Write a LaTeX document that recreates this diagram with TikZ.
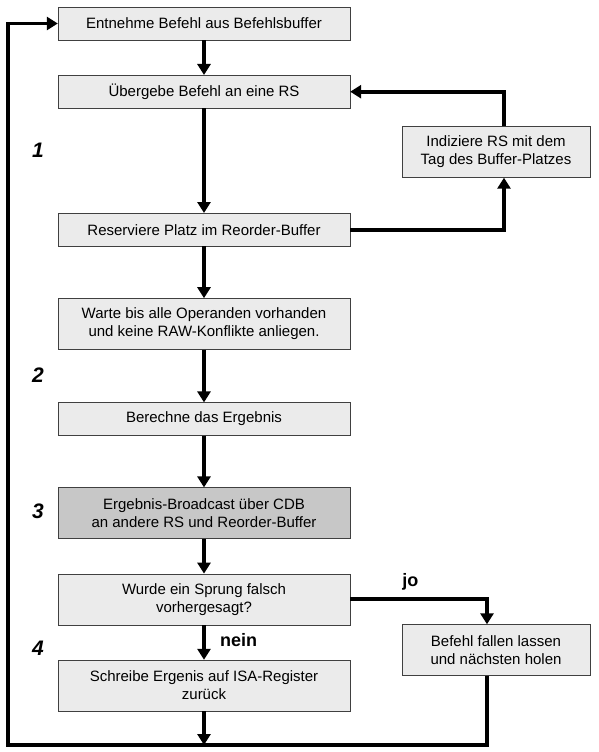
\documentclass[tikz,border=0pt]{standalone}
\usepackage{fontspec}
\setmainfont{Liberation Sans}
\usetikzlibrary{positioning, arrows.meta, calc}

\begin{document}
\begin{tikzpicture}[x=1pt, y=1pt, node distance=34.8pt, >={Triangle[length=11pt,width=13pt]},
  box/.style={draw=black!75, fill=black!8, minimum width=292pt, minimum height=33pt, align=center, inner sep=2pt, font=\fontsize{15}{18}\selectfont},
  tall/.style={minimum height=51pt},
  sidebox/.style={box, tall, minimum width=188pt},
  flow/.style={line width=3.8pt},
  phase/.style={font=\fontsize{21}{21}\selectfont\bfseries\itshape},
  answer/.style={font=\fontsize{18}{18}\selectfont\bfseries}]
\useasboundingbox (0,0) rectangle (599,-752);

\node[box] (entnehme) at (204,-23.5) {Entnehme Befehl aus Befehlsbuffer};
\node[box, below=of entnehme] (uebergebe) {Übergebe Befehl an eine RS};
\node[box, below=104.6pt of uebergebe] (reserviere) {Reserviere Platz im Reorder-Buffer};
\node[box, tall, below=51.8pt of reserviere] (warte) {Warte bis alle Operanden vorhanden\\und keine RAW-Konflikte anliegen.};
\node[box, below=52.8pt of warte] (berechne) {Berechne das Ergebnis};
\node[box, tall, fill=black!22, below=51.6pt of berechne] (broadcast) {Ergebnis-Broadcast über CDB\\an andere RS und Reorder-Buffer};
\node[box, tall, below=of broadcast] (sprung) {Wurde ein Sprung falsch\\vorhergesagt?};
\node[box, tall, below=of sprung] (schreibe) {Schreibe Ergenis auf ISA-Register\\zurück};

\node[sidebox] (indiziere) at (496,-152) {Indiziere RS mit dem\\Tag des Buffer-Platzes};
\node[sidebox] (fallen) at (496,-650) {Befehl fallen lassen\\und nächsten holen};

% Phasen
\node[phase] (p1) at (38,-150) {1};
\node[phase] (p2) at (38,-375) {2};
\node[phase] (p3) at (38,-511) {3};
\node[phase] (p4) at (38,-648) {4};

\coordinate (bottom) at (204,-745);
\coordinate (left) at (8,-745);

\draw[->, flow] (entnehme) -- (uebergebe);
\draw[->, flow] (uebergebe) -- (reserviere);
\draw[->, flow] (reserviere) -- (warte);
\draw[->, flow] (warte) -- (berechne);
\draw[->, flow] (berechne) -- (broadcast);
\draw[->, flow] (broadcast) -- (sprung);
\draw[->, flow] (sprung) -- node[answer, right=11pt, yshift=2pt] (nein) {nein} (schreibe);
\draw[->, flow] (schreibe) -- (bottom);

\draw[->, flow] (reserviere.east) -| ($(indiziere.south)+(8,0)$);
\draw[->, flow] ($(indiziere.north)+(8,0)$) |- (uebergebe.east);
\draw[->, flow] (sprung.east) -| node[answer, pos=0.22, above=4pt] (jo) {jo} ($(fallen.north)+(-9,0)$);
\draw[->, flow] ($(fallen.south)+(-9,0)$) |- (left) |- (entnehme.west);
\end{tikzpicture}
\end{document}
